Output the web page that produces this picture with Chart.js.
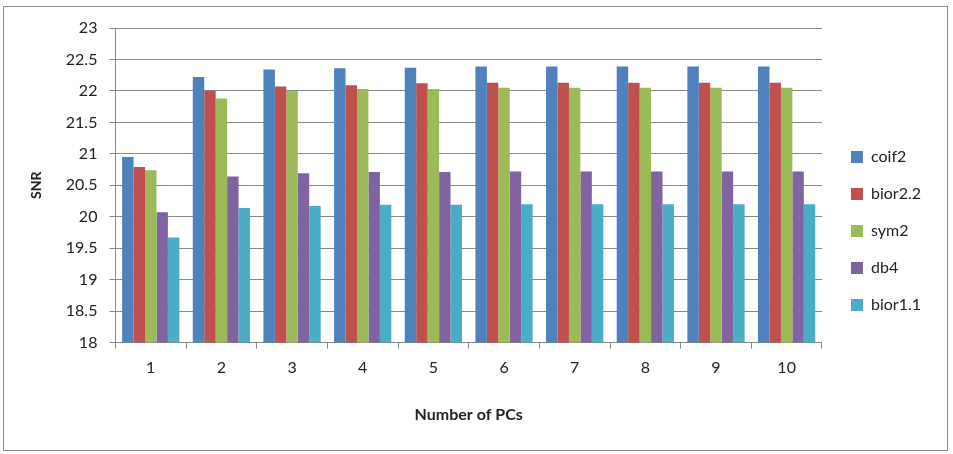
<!DOCTYPE html>
<html>
<head>
<meta charset="utf-8">
<script src="https://cdn.jsdelivr.net/npm/chart.js@4/dist/chart.umd.min.js"></script>
<style>
html,body{margin:0;padding:0;background:#fff;}
#wrap{position:absolute;left:0;top:0;width:953px;height:454px;}
</style>
</head>
<body>
<div id="wrap"><canvas id="c" width="953" height="454"></canvas></div>
<script>
const categories = ["1","2","3","4","5","6","7","8","9","10"];
const coif2   = [20.95, 22.22, 22.34, 22.36, 22.37, 22.39, 22.39, 22.39, 22.39, 22.39];
const bior22  = [20.79, 22.00, 22.07, 22.09, 22.12, 22.13, 22.13, 22.13, 22.13, 22.13];
const sym2    = [20.74, 21.88, 22.00, 22.03, 22.03, 22.05, 22.05, 22.05, 22.05, 22.05];
const db4     = [20.07, 20.64, 20.69, 20.71, 20.71, 20.72, 20.72, 20.72, 20.72, 20.72];
const bior11  = [19.67, 20.14, 20.17, 20.19, 20.19, 20.20, 20.20, 20.20, 20.20, 20.20];
const seriesNames = ["coif2","bior2.2","sym2","db4","bior1.1"];
const yTicks = [18,18.5,19,19.5,20,20.5,21,21.5,22,22.5,23];

const colors = ["#4F81BD","#C0504D","#9BBB59","#8064A2","#4BACC6"];
const allSeries = [coif2, bior22, sym2, db4, bior11];
const FONT = "Lato, 'Open Sans', sans-serif";

const frame = {
  id: 'frame',
  beforeDraw(chart){
    const ctx = chart.ctx;
    ctx.save();
    ctx.fillStyle = '#fff';
    ctx.fillRect(0,0,chart.width,chart.height);
    ctx.strokeStyle = '#8a8a8a';
    ctx.lineWidth = 1;
    ctx.strokeRect(3.5,6.5,944,444);
    ctx.restore();
  }
};

new Chart(document.getElementById('c'), {
  type: 'bar',
  data: {
    labels: categories,
    datasets: allSeries.map((d,i)=>({
      label: seriesNames[i],
      data: d,
      backgroundColor: colors[i],
      borderWidth: 0,
      categoryPercentage: 0.81,
      barPercentage: 1.0
    }))
  },
  options: {
    responsive: false,
    animation: false,
    layout: { padding: { left: 24, right: 22, top: 28, bottom: 26 } },
    plugins: {
      legend: {
        position: 'right',
        align: 'center',
        title: { display: true, text: ' ', font: { size: 5 }, padding: 0 },
        labels: {
          boxWidth: 12, boxHeight: 12,
          padding: 21,
          color: '#222',
          font: { family: FONT, size: 16 }
        }
      },
      tooltip: { enabled: false }
    },
    scales: {
      x: {
        offset: true,
        grid: { display: true, offset: true, drawOnChartArea: false, drawTicks: true, tickLength: 6, color: '#888' },
        border: { display: true, color: '#888' },
        ticks: { color: '#222', font: { family: FONT, size: 16 }, padding: 10 },
        title: { display: true, text: 'Number of PCs', color: '#222', font: { family: FONT, size: 16, weight: 'bold' }, padding: { top: 17 } }
      },
      y: {
        min: 18, max: 23,
        afterBuildTicks(axis){ axis.ticks = yTicks.map(v=>({value:v})); },
        grid: { color: '#888', drawTicks: true, tickLength: 6 },
        border: { display: true, color: '#888' },
        ticks: { color: '#222', font: { family: FONT, size: 16 }, padding: 12,
                 callback: v => String(v) },
        title: { display: true, text: 'SNR', color: '#222', font: { family: FONT, size: 14, weight: 'bold' }, padding: { top: 4, bottom: 9 } }
      },
      yr: {
        position: 'right',
        display: true,
        grid: { display: false, drawTicks: false },
        border: { display: false },
        ticks: { display: false },
        afterFit(axis){ axis.width = 8; }
      }
    }
  },
  plugins: [frame]
});
</script>
</body>
</html>
